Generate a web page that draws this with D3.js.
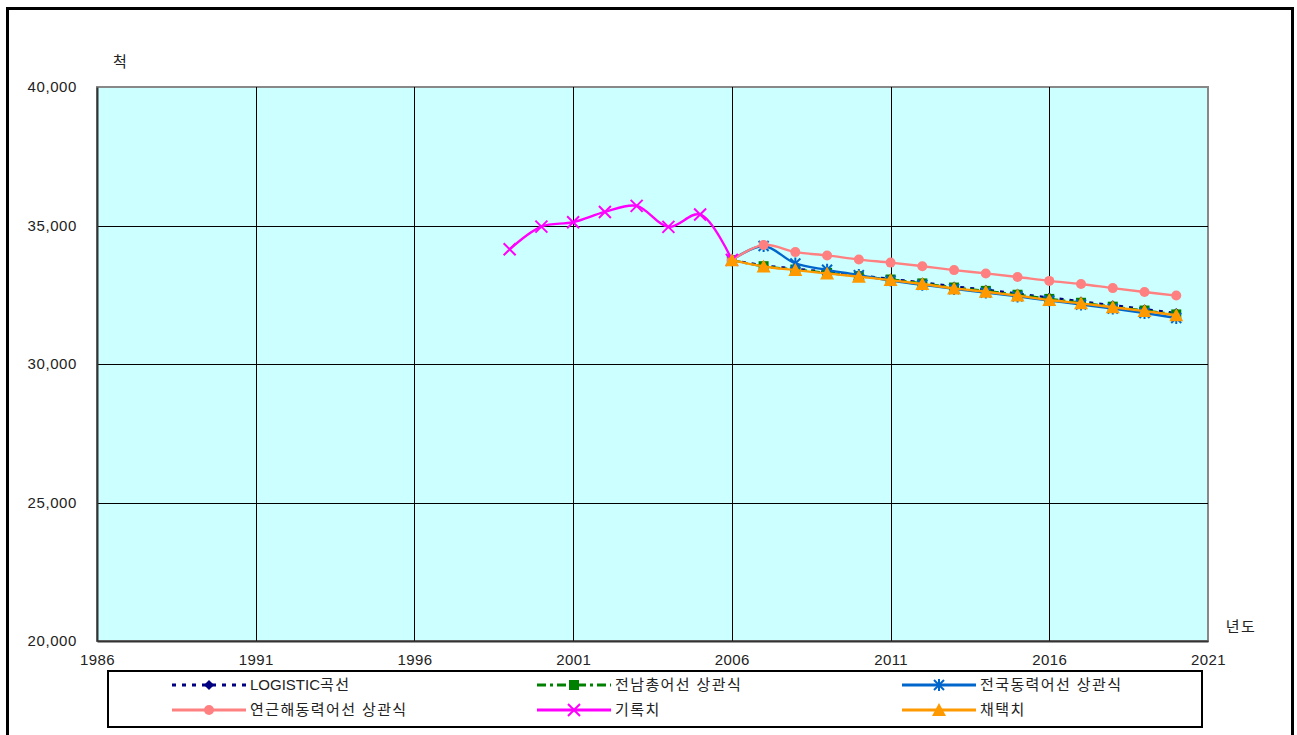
<!DOCTYPE html>
<html><head><meta charset="utf-8">
<script src="https://cdn.jsdelivr.net/npm/d3@7"></script>
<style>body{margin:0;background:#fff}svg{display:block}text{font-family:"Liberation Sans","Noto Sans CJK KR",sans-serif}</style>
</head><body><svg id="c" width="1297" height="735"></svg>
<script>
const yearsHist = [1999,2000,2001,2002,2003,2004,2005,2006];
const recorded = [34140,34960,35120,35490,35710,34950,35400,33760];
const yearsProj = [2006,2007,2008,2009,2010,2011,2012,2013,2014,2015,2016,2017,2018,2019,2020];
const logistic = [33750,33560,33440,33320,33200,33070,32940,32800,32680,32540,32400,32260,32120,31980,31840];
const jeonnam = [33750,33530,33410,33290,33170,33050,32910,32760,32640,32500,32350,32210,32070,31930,31790];
const national = [33750,34260,33630,33400,33210,33010,32860,32710,32580,32440,32290,32150,32000,31840,31660];
const coastal = [33750,34300,34040,33920,33770,33660,33530,33390,33270,33140,33000,32890,32740,32600,32470];
const adopted = [33750,33520,33390,33270,33150,33030,32890,32730,32610,32470,32310,32190,32050,31910,31760];
const xTicks = [1986,1991,1996,2001,2006,2011,2016,2021];
const yTicks = [20000,25000,30000,35000,40000];
const seriesNames = ["LOGISTIC곡선","전남총어선 상관식","전국동력어선 상관식","연근해동력어선 상관식","기록치","채택치"];

const svg = d3.select("#c");
const x = d3.scaleLinear().domain([1986,2021]).range([97,1208]);
const y = d3.scaleLinear().domain([20000,40000]).range([641,87]);

// text helper: Korean runs get a bit of letter spacing
function richText(sel, str) {
  const runs = str.match(/[A-Za-z0-9,]+|[^A-Za-z0-9,]+/g);
  runs.forEach(r => {
    const t = sel.append("tspan").text(r);
    if (/[^A-Za-z0-9,]/.test(r)) t.attr("letter-spacing", 1.4);
  });
}

// outer frame
svg.append("rect").attr("x",7.5).attr("y",8.5).attr("width",1285).attr("height",760)
  .attr("fill","#fff").attr("stroke","#000").attr("stroke-width",3);

// plot area
svg.append("rect").attr("x",x(1986)).attr("y",y(40000)).attr("width",x(2021)-x(1986)).attr("height",y(20000)-y(40000))
  .attr("fill","#CCFFFF").attr("stroke","#888").attr("stroke-width",2);

// grid
svg.append("g").selectAll("line").data(xTicks.slice(1,-1)).join("line")
  .attr("x1",d=>Math.round(x(d))+0.5).attr("x2",d=>Math.round(x(d))+0.5).attr("y1",y(40000)).attr("y2",y(20000))
  .attr("stroke","#000").attr("stroke-width",1);
svg.append("g").selectAll("line").data(yTicks.slice(1,-1)).join("line")
  .attr("y1",d=>Math.round(y(d))+0.5).attr("y2",d=>Math.round(y(d))+0.5).attr("x1",x(1986)).attr("x2",x(2021))
  .attr("stroke","#000").attr("stroke-width",1);

// axes
const ya = svg.append("g").attr("transform",`translate(${x(1986)},0)`)
  .call(d3.axisLeft(y).tickValues(yTicks).tickFormat(d3.format(",")).tickSize(0).tickPadding(20));
ya.select(".domain").attr("stroke","#333").attr("stroke-width",2);
ya.selectAll("text").attr("font-size",15).attr("letter-spacing",0.6).attr("fill","#222");
const xa = svg.append("g").attr("transform",`translate(0,${y(20000)})`)
  .call(d3.axisBottom(x).tickValues(xTicks).tickFormat(d3.format("d")).tickSize(0).tickPadding(13));
xa.select(".domain").attr("stroke","#333").attr("stroke-width",2);
xa.selectAll("text").attr("font-size",15).attr("letter-spacing",0.4).attr("fill","#222");

svg.append("text").attr("x",120).attr("y",67).attr("text-anchor","middle").attr("font-size",15).attr("fill","#222").text("척");
svg.append("text").attr("x",1241).attr("y",632).attr("text-anchor","middle").attr("font-size",15).attr("letter-spacing",1.4).attr("fill","#222").text("년도");

// marker painters
function marker(g, type, color, s) {
  if (type==="diamond") g.append("path").attr("d",`M0,${-s}L${s},0L0,${s}L${-s},0Z`).attr("fill",color);
  else if (type==="square") g.append("rect").attr("x",-s).attr("y",-s).attr("width",2*s).attr("height",2*s).attr("fill",color);
  else if (type==="star") {
    g.append("path").attr("d",`M${-s},${-s}L${s},${s}M${-s},${s}L${s},${-s}M0,${-s-1}L0,${s+1}`).attr("stroke",color).attr("stroke-width",2).attr("fill","none");
  }
  else if (type==="circle") g.append("circle").attr("r",s).attr("fill",color);
  else if (type==="x") g.append("path").attr("d",`M${-s},${-s}L${s},${s}M${-s},${s}L${s},${-s}`).attr("stroke",color).attr("stroke-width",2).attr("fill","none");
  else if (type==="tri") g.append("path").attr("d",`M0,${-s-1}L${s+1},${s}L${-s-1},${s}Z`).attr("fill",color);
}

const series = [
  {name:seriesNames[0], xs:yearsProj, ys:logistic, color:"#000080", dash:"4,6", m:"diamond", s:5},
  {name:seriesNames[1], xs:yearsProj, ys:jeonnam, color:"#008000", dash:"9,4,3,4", m:"square", s:5},
  {name:seriesNames[2], xs:yearsProj, ys:national, color:"#0066CC", dash:null, m:"star", s:5},
  {name:seriesNames[3], xs:yearsProj, ys:coastal, color:"#FF8080", dash:null, m:"circle", s:5},
  {name:seriesNames[4], xs:yearsHist, ys:recorded, color:"#FF00FF", dash:null, m:"x", s:6},
  {name:seriesNames[5], xs:yearsProj, ys:adopted, color:"#FF9900", dash:null, m:"tri", s:6},
];

const line = d3.line().x(d=>x(d[0])).y(d=>y(d[1])).curve(d3.curveCatmullRom.alpha(0.5));
series.forEach(sr=>{
  const pts = sr.xs.map((v,i)=>[v,sr.ys[i]]);
  const g = svg.append("g");
  g.append("path").attr("d",line(pts)).attr("fill","none").attr("stroke",sr.color).attr("stroke-width",2.4)
    .attr("stroke-dasharray",sr.dash);
  pts.forEach(p=>{
    const mg = g.append("g").attr("transform",`translate(${x(p[0])},${y(p[1])})`);
    marker(mg, sr.m, sr.color, sr.s);
  });
});

// legend
svg.append("rect").attr("x",108).attr("y",671).attr("width",1094).attr("height",56)
  .attr("fill","#fff").attr("stroke","#000").attr("stroke-width",2);
const colX = [172,537,902];
const rowY = [685,710];
series.forEach((sr,i)=>{
  const cx = colX[i%3], cy = rowY[Math.floor(i/3)];
  const g = svg.append("g");
  g.append("line").attr("x1",cx).attr("x2",cx+74).attr("y1",cy).attr("y2",cy)
    .attr("stroke",sr.color).attr("stroke-width",3).attr("stroke-dasharray",sr.dash);
  marker(g.append("g").attr("transform",`translate(${cx+37},${cy})`), sr.m, sr.color, sr.s);
  const t = g.append("text").attr("x",cx+78).attr("y",cy+5).attr("font-size",15).attr("fill","#222");
  richText(t, sr.name);
});
</script></body></html>
